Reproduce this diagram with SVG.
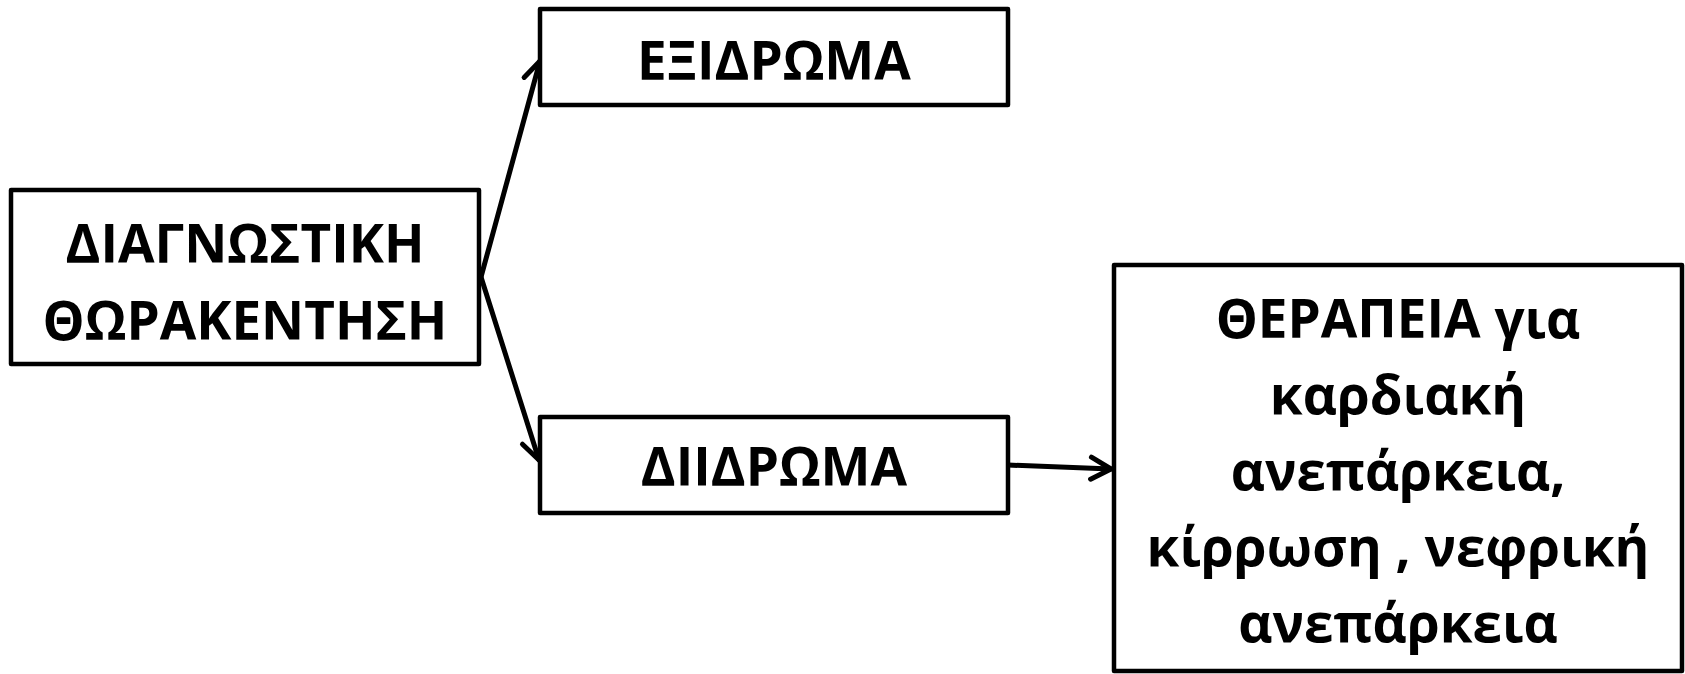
<svg xmlns="http://www.w3.org/2000/svg" width="1685" height="674" viewBox="0 0 1685 674">
<style>
.box{fill:#fff;stroke:#000;stroke-width:4.5;stroke-linejoin:round}
.t{font-family:"Open Sans","Noto Sans","DejaVu Sans",sans-serif;font-weight:bold;font-size:53px;fill:#000;text-anchor:middle}
.c{stroke:#000;stroke-width:5;fill:none;stroke-linecap:round}
</style>
<defs>
<marker id="ah" markerUnits="userSpaceOnUse" viewBox="-24 -14 28 28" markerWidth="28" markerHeight="28" refX="0" refY="0" orient="auto">
<path d="M-20,-11 L0,0 L-20,11" fill="none" stroke="#000" stroke-width="5" stroke-linecap="round" stroke-linejoin="round"/>
</marker>
</defs>
<rect width="1685" height="674" fill="#fff"/>
<g id="connectors">
<line class="c" x1="481" y1="277" x2="540" y2="61" marker-end="url(#ah)"/>
<line class="c" x1="481" y1="277" x2="539" y2="460" marker-end="url(#ah)"/>
<line class="c" x1="1008" y1="465" x2="1111" y2="469" marker-end="url(#ah)"/>
</g>
<g id="node-diagnostic">
<rect class="box" x="11" y="190" width="468" height="174"/>
<text class="t" x="245" y="263">ΔΙΑΓΝΩΣΤΙΚΗ</text>
<text class="t" x="245" y="340">ΘΩΡΑΚΕΝΤΗΣΗ</text>
</g>
<g id="node-exidroma">
<rect class="box" x="540" y="9" width="468" height="96"/>
<text class="t" x="774" y="80">ΕΞΙΔΡΩΜΑ</text>
</g>
<g id="node-diidroma">
<rect class="box" x="540" y="417" width="468" height="96"/>
<text class="t" x="774" y="486">ΔΙΙΔΡΩΜΑ</text>
</g>
<g id="node-therapy">
<rect class="box" x="1114" y="265" width="568" height="406"/>
<text class="t" x="1398" y="338">ΘΕΡΑΠΕΙΑ για</text>
<text class="t" x="1398" y="414">καρδιακή</text>
<text class="t" x="1398" y="490">ανεπάρκεια,</text>
<text class="t" x="1398" y="566">κίρρωση , νεφρική</text>
<text class="t" x="1398" y="642">ανεπάρκεια</text>
</g>
</svg>
